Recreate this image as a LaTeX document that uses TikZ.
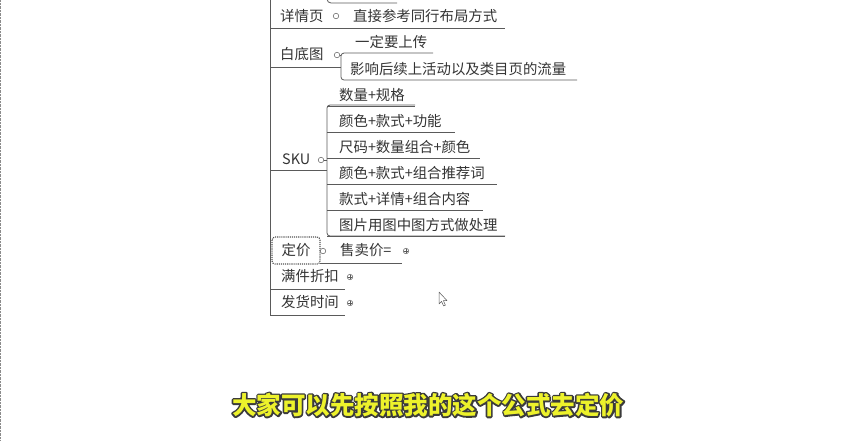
\documentclass[tikz,border=0pt]{standalone}
\usepackage{fontspec}
\newfontfamily\cjk{Noto Sans CJK SC}
\definecolor{linegray}{HTML}{5A5A5A}
\definecolor{txtgray}{HTML}{333333}
\newcommand{\outlined}[1]{%
  \rlap{\special{pdf:literal direct q 1 Tr 3.2 w 1 j 0.23 0.23 0.23 RG}#1\special{pdf:literal direct Q}}%
  \special{pdf:literal direct q 0 Tr 0.93 0.95 0.17 rg}#1\special{pdf:literal direct Q}}
\begin{document}
\begin{tikzpicture}[x=1pt,y=-1pt,
  topic/.style={anchor=west, inner sep=0pt, text=txtgray, font=\cjk\fontsize{14.4}{16}\selectfont},
  branch/.style={linegray, line width=0.8pt},
  knob/.style={draw=linegray, fill=white, circle, inner sep=0pt, minimum size=5.5pt, line width=0.5pt},
  pknob/.style={knob, path picture={\draw[linegray, line width=0.4pt]
      ([xshift=-1.6pt]path picture bounding box.center) -- ([xshift=1.6pt]path picture bounding box.center)
      ([yshift=-1.6pt]path picture bounding box.center) -- ([yshift=1.6pt]path picture bounding box.center);}},
  subtitle/.style={inner sep=0pt, font=\cjk\bfseries\fontsize{24.5}{26}\selectfont}]
\useasboundingbox (0,0) rectangle (854,440);
\draw[linegray!70, densely dotted] (0.5,0) -- (0.5,440);
% main trunk
\draw[branch] (270,0) -- (270,315);
\draw[branch, rounded corners=4pt] (327,-6) -- (327,3) -- (397,3);

% detail page
\node[topic] (detail) at (280,16) {详情页};
\node[knob] (kdetail) at (336,16) {};
\node[topic] (layout) at (353,16) {直接参考同行布局方式};
\draw[branch] (270,28) -- (505,28);

% white background
\node[topic] (white) at (280,54) {白底图};
\node[knob] (kwhite) at (337,55) {};
\draw[branch] (270,67) -- (341,67);
\draw[branch, rounded corners=3pt] (433,53) -- (341,53) -- (341,80) -- (577,80);
\draw[branch] (kwhite) -- (341,55);
\node[topic] (upload) at (355,42) {一定要上传};
\node[topic] (traffic) at (350,69) {影响后续上活动以及类目页的流量};

% sku
\node[topic] (sku) at (282,159) {SKU};
\node[knob] (ksku) at (321,160) {};
\draw[branch] (270,170) -- (327,170);
\draw[branch] (ksku) -- (327,160);
\draw[branch, rounded corners=3pt] (415,105) -- (327,105) -- (327,236) -- (505,236);
\foreach \txt/\yy/\xe [count=\i] in {数量+规格/95/415, 颜色+款式+功能/121/455,
    尺码+数量组合+颜色/147/480, 颜色+款式+组合推荐词/173/497,
    款式+详情+组合内容/199/483, 图片用图中图方式做处理/225/505}
{
  \node[topic] (sku\i) at (339,\yy) {\txt};
  \draw[branch] (327,\yy+11) -- (\xe,\yy+11);
}

% price
\draw[linegray!90!black, line width=1.1pt, densely dotted, rounded corners=3pt] (272,237) rectangle (320,264);
\node[topic, anchor=center] (price) at (296,250) {定价};
\node[knob] (kprice) at (323,251) {};
\node[topic] (sale) at (340,250) {售卖价=};
\draw[branch] (320,263) -- (402,263);
\node[pknob] (ksale) at (406,251) {};

% discount and shipping
\node[topic] (discount) at (281,276) {满件折扣};
\draw[branch] (270,289) -- (345,289);
\node[pknob] (kdiscount) at (350,277) {};
\node[topic] (ship) at (281,302) {发货时间};
\draw[branch] (270,315) -- (345,315);
\node[pknob] (kship) at (350,303) {};

% cursor
\draw[linegray, fill=white, line width=0.5pt, line join=round]
  (439,292) -- (439,304) -- (441.6,301.4) -- (443.6,306) -- (445.4,305.2) -- (443.4,300.6) -- (447,300.6) -- cycle;

% subtitle
\node[subtitle] (sub) at (428,405) {\outlined{大家可以先按照我的这个公式去定价}};
\end{tikzpicture}
\end{document}
